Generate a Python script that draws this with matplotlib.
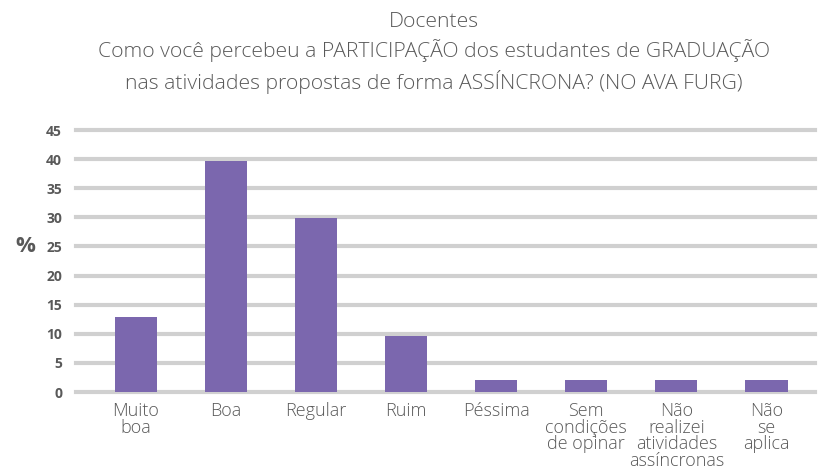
import matplotlib.pyplot as plt

# Data
categorias = ['Muito\nboa', 'Boa', 'Regular', 'Ruim', 'Péssima',
              'Sem\ncondições\nde opinar', 'Não\nrealizei\natividades\nassíncronas',
              'Não\nse\naplica']
valores = [12.8, 39.6, 29.8, 9.6, 2.1, 2.1, 2.1, 2.1]
yticks = [0, 5, 10, 15, 20, 25, 30, 35, 40, 45]

titulo = ("Docentes\n"
          "Como você percebeu a PARTICIPAÇÃO dos estudantes de GRADUAÇÃO\n"
          "nas atividades propostas de forma ASSÍNCRONA? (NO AVA FURG)")

cinza = '#595959'
roxo = '#7B67AE'

plt.rcParams['font.family'] = ['Open Sans', 'DejaVu Sans']

fig = plt.figure(figsize=(8.18, 4.72), dpi=100)
ax = fig.add_axes([76 / 818, 80 / 472, 739 / 818, 262 / 472])

x = list(range(len(categorias)))
ax.bar(x, valores, width=0.47, color=roxo, zorder=3)

ax.set_ylim(0, 45)
ax.set_xlim(-0.667, 7.54)
ax.set_yticks(yticks)
ax.set_yticklabels([str(v) for v in yticks], fontweight='bold', color=cinza, fontsize=10)
ax.yaxis.grid(True, color='#D0D0D0', linewidth=3, zorder=0)
ax.tick_params(axis='y', length=0, pad=10)
ax.tick_params(axis='x', length=0, pad=7)
ax.set_xticks(x)
ax.set_xticklabels(categorias, color=cinza, fontsize=13, fontweight='light',
                   linespacing=0.92)
for s in ax.spines.values():
    s.set_visible(False)
for gl in ax.get_ygridlines():
    gl.set_clip_on(False)

ax.set_ylabel('%', rotation=0, fontweight='bold', fontsize=16, color=cinza,
              va='center', ha='center')
ax.yaxis.set_label_coords(-0.069, 25 / 45)

fig.text(434 / 818, 1 - 12 / 472, titulo, ha='center', va='top', color=cinza,
         fontsize=15.2, fontweight='light', linespacing=1.4)

fig.savefig('out.png', dpi=100)
